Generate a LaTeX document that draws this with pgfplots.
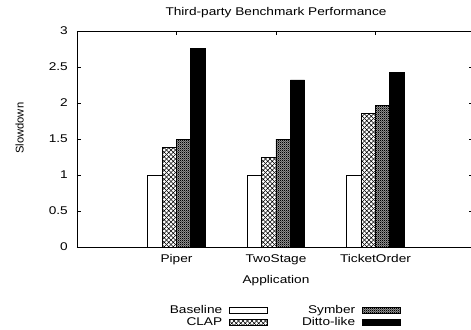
\documentclass[border=0pt]{standalone}
\usepackage{fontspec}
\setmainfont{Liberation Sans}[FakeStretch=1.22]
\newfontfamily\plainfont{Liberation Sans}
\usepackage{pgfplots}
\pgfplotsset{compat=1.18}
\usetikzlibrary{patterns}

\pgfdeclarepatternformonly{myx}{\pgfpoint{-1bp}{-1bp}}{\pgfpoint{5.5bp}{5.5bp}}{\pgfpoint{4.5bp}{4.5bp}}{%
  \pgfsetlinewidth{0.7bp}%
  \pgfpathmoveto{\pgfpoint{0bp}{0bp}}\pgfpathlineto{\pgfpoint{4.5bp}{4.5bp}}%
  \pgfpathmoveto{\pgfpoint{0bp}{4.5bp}}\pgfpathlineto{\pgfpoint{4.5bp}{0bp}}%
  \pgfusepath{stroke}}
\pgfdeclarepatternformonly{mycheck}{\pgfpointorigin}{\pgfpoint{2.2bp}{2.2bp}}{\pgfpoint{2.2bp}{2.2bp}}{%
  \pgfpathrectangle{\pgfpointorigin}{\pgfpoint{1.1bp}{1.1bp}}%
  \pgfpathrectangle{\pgfpoint{1.1bp}{1.1bp}}{\pgfpoint{1.1bp}{1.1bp}}%
  \pgfusepath{fill}}

\pgfplotsset{mylegend/.style={legend image code/.code={\draw[##1, line width=0.8bp] (0bp,-3bp) rectangle (38bp,3bp);}}}

\begin{document}
\begin{tikzpicture}[font=\fontsize{11.2bp}{13bp}\selectfont]
\begin{axis}[
  scale only axis, width=396bp, height=216bp,
  xmin=0, xmax=3.98, ymin=0, ymax=3,
  ybar=0pt, bar width=14.3bp,
  every axis plot post/.append style={mylegend},
  xtick={1,2,3}, xticklabels={Piper,TwoStage,TicketOrder},
  ytick={0,0.5,1,1.5,2,2.5,3},
  yticklabels={0,0.5,1,1.5,2,2.5,3},
  major tick length=4bp, tick align=inside,
  tick style={black, line width=0.6bp},
  axis line style={line width=0.8bp},
  /pgf/number format/assume math mode=true,
  title={Third-party Benchmark Performance},
  title style={at={(axis description cs:0.5025,1)}, anchor=base, yshift=10bp},
  xlabel={Application},
  xlabel style={at={(axis description cs:0.5025,0)}, anchor=base, yshift=-36bp},
  ylabel={\plainfont Slowdown},
  ylabel style={at={(axis description cs:0,0.55)}, anchor=center, xshift=0bp, yshift=57.5bp},
  xticklabel style={anchor=base, yshift=-15.5bp},
  yticklabel style={anchor=east, inner sep=0pt, xshift=-9bp},
  legend columns=2, transpose legend, legend plot pos=right, legend cell align=right,
  legend style={draw=none, fill=none, at={(axis description cs:0.525,-0.257)}, anchor=north,
    row sep=0bp, nodes={inner sep=1bp},
    /tikz/every even column/.append style={column sep=33bp},
    /tikz/every odd column/.append style={column sep=6bp}},
]
\addplot[draw=black, line width=0.8bp, fill=white] coordinates {(1,1) (2,1) (3,1)};
\addplot[draw=black, line width=0.8bp, pattern=myx] coordinates {(1,1.38) (2,1.24) (3,1.86)};
\addplot[draw=black, line width=0.8bp, fill=black!40, postaction={pattern=mycheck}] coordinates {(1,1.5) (2,1.5) (3,1.96)};
\addplot[draw=black, line width=0.8bp, fill=black] coordinates {(1,2.76) (2,2.32) (3,2.42)};
\legend{Baseline, CLAP, Symber, Ditto-like}
\coordinate (bbsw) at (rel axis cs:0,0);
\end{axis}
\pgfresetboundingbox
\path[use as bounding box] ([shift={(-77bp,-83bp)}]bbsw) rectangle ([shift={(394bp,247bp)}]bbsw);
\end{tikzpicture}
\end{document}
